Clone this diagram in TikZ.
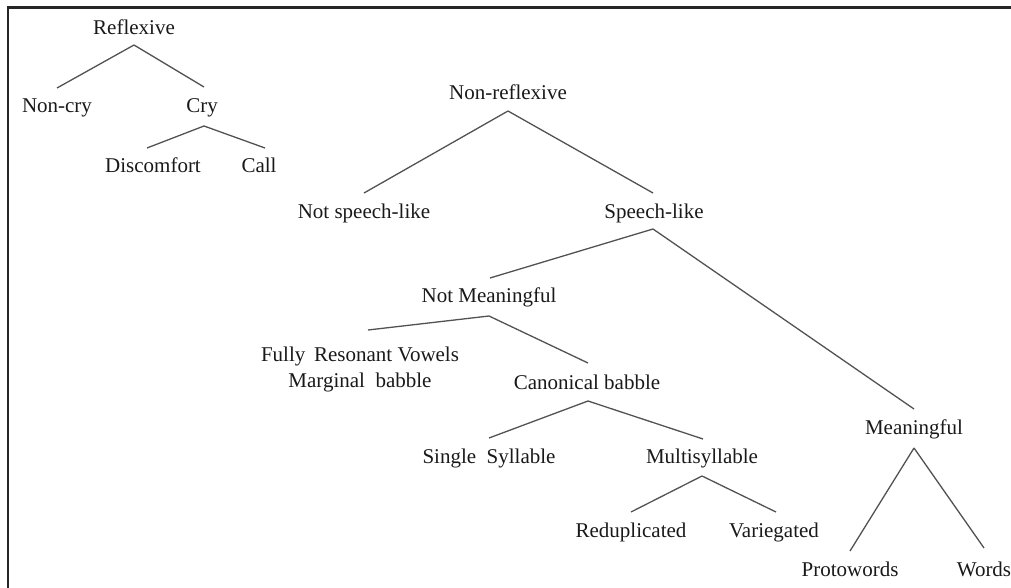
\documentclass[tikz,border=0pt]{standalone}
\usepackage{fontspec}
\setmainfont{Liberation Serif}
\begin{document}
\begin{tikzpicture}[x=1pt,y=-1pt,
  lbl/.style={inner sep=0pt, text=black!90, font=\fontsize{21}{26}\selectfont, align=center},
  br/.style={draw=black!68, line width=1.3pt},
  frame/.style={draw=black!85, line width=2.2pt}]
\useasboundingbox (0,0) rectangle (1011,588);
% frame
\coordinate (fa) at (8.3,588);
\coordinate (fb) at (8.3,7.5);
\coordinate (fc) at (1011,7.5);
\draw[frame] (fa) -- (fb) -- (fc);
% nodes
\node[lbl] (refl) at (134,27) {Reflexive};
\node[lbl] (noncry) at (57,108) {Non-cry};
\node[lbl] (cry) at (202,108) {Cry};
\node[lbl] (disc) at (153,165) {Discomfort};
\node[lbl] (call) at (259,165) {Call};
\node[lbl] (nonrefl) at (508,92) {Non-reflexive};
\node[lbl] (nsl) at (364,213) {Not speech-like};
\node[lbl] (sl) at (654,213) {Speech-like};
\node[lbl] (nm) at (489,297) {Not Meaningful};
\node[lbl] (frv) at (360,369) {Fully\ \,Resonant Vowels\\Marginal\ \ babble};
\node[lbl] (cb) at (587,382) {Canonical babble};
\node[lbl] (ss) at (489,458) {Single\ \ Syllable};
\node[lbl] (ms) at (702,458) {Multisyllable};
\node[lbl] (red) at (631,532) {Reduplicated};
\node[lbl] (var) at (774,532) {Variegated};
\node[lbl] (mean) at (914,429) {Meaningful};
\node[lbl] (proto) at (850,569) {Protowords};
\node[lbl] (words) at (984,569) {Words};
% branches
\draw[br] ([yshift=-18pt]refl.center) -- ([yshift=20pt]noncry.center);
\draw[br] ([yshift=-18pt]refl.center) -- ([xshift=2pt,yshift=21pt]cry.center);
\draw[br] ([xshift=2pt,yshift=-18pt]cry.center) -- ([xshift=-6pt,yshift=17pt]disc.center);
\draw[br] ([xshift=2pt,yshift=-18pt]cry.center) -- ([xshift=6pt,yshift=17pt]call.center);
\draw[br] ([yshift=-19pt]nonrefl.center) -- ([yshift=20pt]nsl.center);
\draw[br] ([yshift=-19pt]nonrefl.center) -- ([xshift=-1pt,yshift=20pt]sl.center);
\draw[br] ([xshift=-1pt,yshift=-16pt]sl.center) -- ([xshift=1pt,yshift=19pt]nm.center);
\draw[br] ([xshift=-1pt,yshift=-16pt]sl.center) -- ([yshift=20pt]mean.center);
\draw[br] ([yshift=-19pt]nm.center) -- ([xshift=8pt,yshift=39pt]frv.center);
\draw[br] ([yshift=-19pt]nm.center) -- ([xshift=1pt,yshift=19pt]cb.center);
\draw[br] ([xshift=1pt,yshift=-19pt]cb.center) -- ([yshift=20pt]ss.center);
\draw[br] ([xshift=1pt,yshift=-19pt]cb.center) -- ([xshift=1pt,yshift=19pt]ms.center);
\draw[br] ([yshift=-18pt]ms.center) -- ([yshift=20pt]red.center);
\draw[br] ([yshift=-18pt]ms.center) -- ([xshift=2pt,yshift=20pt]var.center);
\draw[br] ([yshift=-19pt]mean.center) -- ([yshift=18pt]proto.center);
\draw[br] ([yshift=-19pt]mean.center) -- ([yshift=21pt]words.center);
\end{tikzpicture}
\end{document}
